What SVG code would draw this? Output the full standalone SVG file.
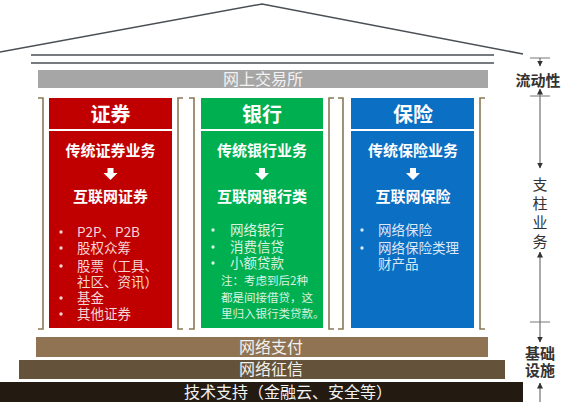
<svg xmlns="http://www.w3.org/2000/svg" width="564" height="402" viewBox="0 0 564 402">
<defs>
<style>
.cj{font-family:"Noto Sans CJK SC","Noto Sans",sans-serif;}
.ttl{font-size:20px;font-weight:bold;fill:#ffffff;text-anchor:middle;}
.sub{font-size:15px;font-weight:bold;fill:#ffffff;text-anchor:middle;}
.li{font-size:13.5px;}
.note{font-size:11.5px;}
.bar{font-size:16px;fill:#f2f2f2;text-anchor:middle;}
.ann{font-size:15px;font-weight:bold;fill:#333333;text-anchor:middle;}
.annv{font-size:15px;fill:#333333;text-anchor:middle;}
.brk{fill:none;stroke:#8a7757;stroke-width:1.6;}
.roof{fill:none;stroke:#4a4f55;stroke-width:1.5;}
.axis{fill:none;stroke:#555555;stroke-width:1;}
.tick{fill:none;stroke:#777777;stroke-width:1;}
.arr{fill:#ffffff;}
</style>
<marker id="ah" viewBox="0 0 6 6" refX="5.5" refY="3" markerWidth="6" markerHeight="6" markerUnits="userSpaceOnUse" orient="auto">
<path d="M0,0 L6,3 L0,6 z" fill="#333333"/>
</marker>
</defs>
<rect width="564" height="402" fill="#ffffff"/>

<g id="roof">
<polyline class="roof" points="0,52 262,4 523,54"/>
<line class="roof" x1="31" y1="55" x2="494" y2="55"/>
<line class="roof" x1="31" y1="63" x2="494" y2="63"/>
</g>

<g id="exchange">
<rect x="38" y="70" width="450" height="18" fill="#a6a6a6"/>
<text class="cj bar" x="263" y="85">网上交易所</text>
</g>

<g id="brackets">
<path class="brk" d="M38,98 H43 V329 H38"/>
<path class="brk" d="M183,98 H178 V329 H183"/>
<path class="brk" d="M189,98 H194 V329 H189"/>
<path class="brk" d="M334,98 H329 V329 H334"/>
<path class="brk" d="M338,98 H343 V329 H338"/>
<path class="brk" d="M485,98 H480 V329 H485"/>
</g>

<g id="securities">
<rect x="49" y="98" width="123" height="230" fill="#c00000"/>
<rect x="49" y="129" width="123" height="2" fill="#ffffff"/>
<text class="cj ttl" x="110.5" y="122">证券</text>
<text class="cj sub" x="110.5" y="156">传统证券业务</text>
<path class="arr" d="M107.5,168 h6 v5 h4 l-7,7 l-7,-7 h4 z"/>
<text class="cj sub" x="110.5" y="202">互联网证券</text>
<g fill="#f5d5d5">
<circle cx="61" cy="232" r="1.7"/><circle cx="61" cy="248" r="1.7"/><circle cx="61" cy="266" r="1.7"/>
<circle cx="61" cy="298" r="1.7"/><circle cx="61" cy="314" r="1.7"/>
</g>
<text class="cj li" fill="#f5d5d5"><tspan x="77" y="237">P2P、P2B</tspan><tspan x="77" y="253">股权众筹</tspan><tspan x="77" y="271">股票（工具、</tspan><tspan x="77" y="287">社区、资讯）</tspan><tspan x="77" y="303">基金</tspan><tspan x="77" y="319">其他证券</tspan></text>
</g>

<g id="bank">
<rect x="201" y="98" width="122" height="230" fill="#00b050"/>
<rect x="201" y="129" width="122" height="2" fill="#ffffff"/>
<text class="cj ttl" x="262" y="122">银行</text>
<text class="cj sub" x="262" y="156">传统银行业务</text>
<path class="arr" d="M259,168 h6 v5 h4 l-7,7 l-7,-7 h4 z"/>
<text class="cj sub" x="262" y="202">互联网银行类</text>
<g fill="#d9f2e2">
<circle cx="213" cy="230" r="1.7"/><circle cx="213" cy="247" r="1.7"/><circle cx="213" cy="263" r="1.7"/>
</g>
<text class="cj li" fill="#d9f2e2"><tspan x="230" y="235">网络银行</tspan><tspan x="230" y="252">消费信贷</tspan><tspan x="230" y="268">小额贷款</tspan></text>
<text class="cj note" fill="#d9f2e2"><tspan x="221" y="285">注：考虑到后2种</tspan><tspan x="221" y="302">都是间接借贷，这</tspan><tspan x="221" y="318">里归入银行类贷款。</tspan></text>
</g>

<g id="insurance">
<rect x="351" y="98" width="123" height="230" fill="#0b6fc4"/>
<rect x="351" y="129" width="123" height="2" fill="#ffffff"/>
<text class="cj ttl" x="413" y="122">保险</text>
<text class="cj sub" x="413" y="156">传统保险业务</text>
<path class="arr" d="M410,168 h6 v5 h4 l-7,7 l-7,-7 h4 z"/>
<text class="cj sub" x="413" y="202">互联网保险</text>
<g fill="#dbe8f6">
<circle cx="362" cy="230" r="1.7"/><circle cx="362" cy="248" r="1.7"/>
</g>
<text class="cj li" fill="#dbe8f6"><tspan x="378" y="235">网络保险</tspan><tspan x="378" y="253">网络保险类理</tspan><tspan x="378" y="269">财产品</tspan></text>
</g>

<g id="payment">
<rect x="36" y="337" width="452" height="20" fill="#8f7352"/>
<text class="cj bar" x="271" y="353">网络支付</text>
</g>
<g id="credit">
<rect x="19" y="360" width="486" height="19" fill="#65523a"/>
<text class="cj bar" x="271" y="375">网络征信</text>
</g>
<g id="tech">
<rect x="0" y="382" width="523" height="20" fill="#231a12"/>
<text class="cj bar" x="288" y="398">技术支持（金融云、安全等）</text>
</g>

<g id="connectors">
<line class="tick" x1="530" y1="58" x2="550" y2="58"/>
<line class="axis" x1="540" y1="58" x2="540" y2="66" marker-end="url(#ah)"/>
<line class="axis" x1="540" y1="128" x2="540" y2="89" marker-end="url(#ah)"/>
<line class="axis" x1="540" y1="128" x2="540" y2="168" marker-end="url(#ah)"/>
<line class="tick" x1="530" y1="96" x2="550" y2="96"/>
<line class="axis" x1="540" y1="300" x2="540" y2="252" marker-end="url(#ah)"/>
<line class="axis" x1="540" y1="300" x2="540" y2="342" marker-end="url(#ah)"/>
<line class="tick" x1="530" y1="322" x2="550" y2="322"/>
<line class="axis" x1="540" y1="402" x2="540" y2="383" marker-end="url(#ah)"/>
</g>

<g id="labels">
<text class="cj ann" x="538" y="86">流动性</text>
<text class="cj annv"><tspan x="540" y="190">支</tspan><tspan x="540" y="209">柱</tspan><tspan x="540" y="228">业</tspan><tspan x="540" y="247">务</tspan></text>
<text class="cj ann"><tspan x="540" y="359">基础</tspan><tspan x="540" y="376">设施</tspan></text>
</g>
</svg>
